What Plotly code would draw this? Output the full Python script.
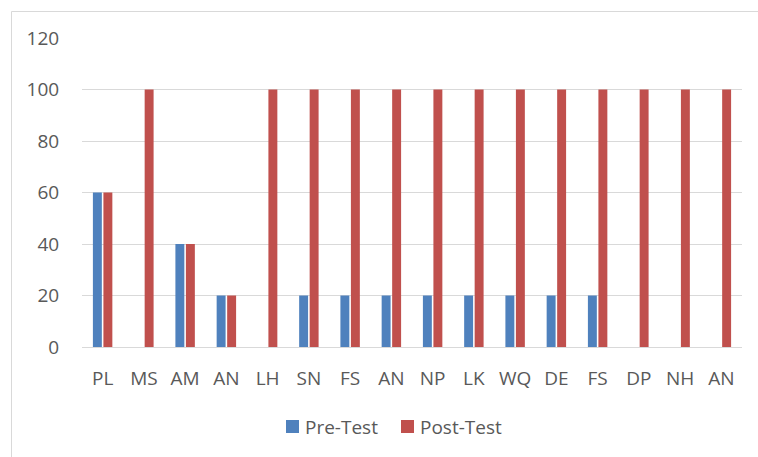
import plotly.graph_objects as go

categories = ["PL", "MS", "AM", "AN", "LH", "SN", "FS", "AN", "NP", "LK", "WQ", "DE", "FS", "DP", "NH", "AN"]
pre_test = [60, 0, 40, 20, 0, 20, 20, 20, 20, 20, 20, 20, 20, 0, 0, 0]
post_test = [60, 100, 40, 20, 100, 100, 100, 100, 100, 100, 100, 100, 100, 100, 100, 100]
y_ticks = [0, 20, 40, 60, 80, 100, 120]
series_names = ["Pre-Test", "Post-Test"]
series_colors = ["#4F81BD", "#C0504D"]

W, H = 758, 457
L, R, T, B = 82, 16, 38, 110
pw, ph = W - L - R, H - T - B

def px_x(x):
    return (x - L) / pw

def px_y(y):
    return (H - B - y) / ph

idx = list(range(len(categories)))
font = dict(family="Open Sans, Liberation Sans, sans-serif", size=19, color="#595959")

fig = go.Figure()
for name, vals, col in zip(series_names, [pre_test, post_test], series_colors):
    fig.add_trace(go.Bar(x=idx, y=vals, name=name, marker=dict(color=col, line=dict(width=0)),
                         showlegend=False))

# custom legend (square swatch + text), positioned like the reference
shapes = [
    dict(type="line", xref="paper", yref="paper", x0=px_x(11.5), x1=px_x(11.5), y0=px_y(11.5), y1=px_y(470),
         line=dict(color="#D9D9D9", width=1)),
    dict(type="line", xref="paper", yref="paper", x0=px_x(11.5), x1=px_x(770), y0=px_y(11.5), y1=px_y(11.5),
         line=dict(color="#D9D9D9", width=1)),
]
annotations = []
legend_x = [286, 401]
for name, col, lx in zip(series_names, series_colors, legend_x):
    shapes.append(dict(type="rect", xref="paper", yref="paper", x0=px_x(lx), x1=px_x(lx + 13),
                       y0=px_y(433), y1=px_y(420), fillcolor=col, line=dict(width=0)))
    annotations.append(dict(text=name, xref="paper", yref="paper", x=px_x(lx + 17), y=px_y(426.5),
                            xanchor="left", yanchor="middle", showarrow=False, font=font))

fig.update_layout(
    width=W, height=H,
    margin=dict(l=L, r=R, t=T, b=B),
    paper_bgcolor="white", plot_bgcolor="white",
    barmode="group", bargap=0.49, bargroupgap=0.15,
    font=font,
    showlegend=False,
    xaxis=dict(tickmode="array", tickvals=idx, ticktext=categories, range=[-0.5, len(categories) - 0.5],
               showgrid=False, zeroline=False, showline=False, ticks="outside", ticklen=14,
               tickcolor="rgba(0,0,0,0)", tickfont=font),
    yaxis=dict(range=[0, 120], tickvals=y_ticks, showgrid=True, gridcolor="#D9D9D9", gridwidth=1,
               zeroline=True, zerolinecolor="#D9D9D9", zerolinewidth=1, showline=False,
               ticks="outside", ticklen=18, tickcolor="rgba(0,0,0,0)", tickfont=font),
    shapes=shapes,
    annotations=annotations,
)

fig.write_html("out.html", config={"displayModeBar": False},
               post_script="document.body.style.margin='0';document.body.style.overflow='hidden';")
